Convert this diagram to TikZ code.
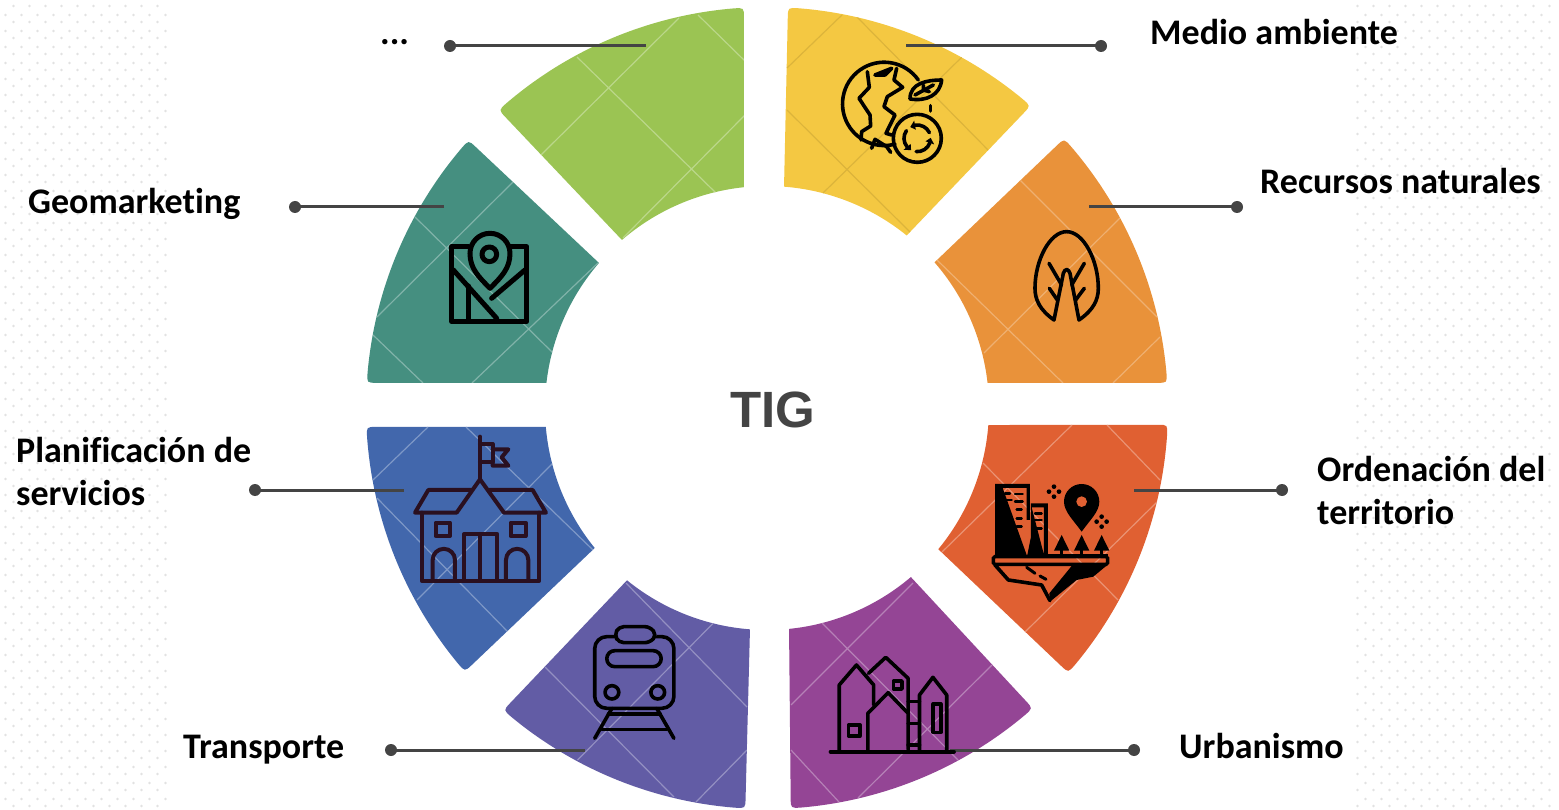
\documentclass[tikz,border=0pt]{standalone}
\usepackage{fontspec}
\setmainfont{Carlito}[Ligatures=NoCommon]
\newfontfamily\tigfont{Liberation Sans}
\usetikzlibrary{calc}
\definecolor{cyel}{HTML}{F4C842}
\definecolor{cora}{HTML}{E9923A}
\definecolor{cred}{HTML}{E06032}
\definecolor{cpur}{HTML}{944595}
\definecolor{cvio}{HTML}{625CA5}
\definecolor{cblu}{HTML}{4267AC}
\definecolor{ctea}{HTML}{458F80}
\definecolor{cgre}{HTML}{9BC453}
\definecolor{cink}{HTML}{2A1020}
\definecolor{cleader}{HTML}{444444}
\definecolor{cdot}{HTML}{E2E2E2}
\tikzset{
  lbl/.style={font=\fontsize{36}{43}\selectfont\bfseries,text=black,inner sep=0pt,anchor=base west,align=left},
  leader/.style={draw=cleader,line width=3pt},
  enddot/.style={circle,fill=cleader,inner sep=0pt,minimum size=12pt},
  ico/.style={draw=black,line width=3.6pt,line cap=round,line join=round},
  sch/.style={draw=cink,line width=4pt,line cap=round,line join=round},
  lat/.style={line width=1.2pt},
}
\newcommand\segpath[4]{({#1-1.5}:401) arc[start angle=#1-1.5,end angle=#2+1.5,radius=401]
     .. controls (#2:401) .. ($(#2:401)!10pt!(#3:222)$) -- (#3:222)
     arc[start angle=#3,end angle=#4,radius=222]
     -- ($(#1:401)!10pt!(#4:222)$) .. controls (#1:401) .. cycle}
% wedge: fill colour, lattice colour, outer start, outer end, inner near end, inner near start, lattice lines
\newcommand\segm[7]{%
  \begin{scope}[shift={(767,408)},y=1pt]
  \fill[#1] \segpath{#3}{#4}{#5}{#6};
  \clip \segpath{#3}{#4}{#5}{#6};
  \begin{scope}[y=-1pt,shift={(-767,-408)}]
    \draw[lat,#2] #7;
  \end{scope}
  \end{scope}}
\begin{document}
\begin{tikzpicture}[x=1pt,y=-1pt]
\useasboundingbox (0,0) rectangle (1559,810);
\fill[white] (0,0) rectangle (1559,810);
% dotted background
\foreach \j in {0,...,50}{
  \foreach \i in {0,...,9,84,85,...,96}{\fill[cdot] ({13.5+16*\i},{6+16*\j}) circle[radius=1.3];}
  \foreach \i in {0,...,10,85,86,...,96}{\fill[cdot] ({5.5+16*\i},{15+16*\j}) circle[radius=1.3];}
}
% wedges with their lattice lines
\segm{cyel}{cyel!90!black}{87}{48.9}{51}{85.6}{(842,15) -- (787,68) (857,17) -- (990,152) (962,57) -- (823,193) (787,110) -- (910,232)}
\segm{cora}{cora!72!white}{42.2}{3.6}{6.5}{41}{(1020,180) -- (1157,317) (1120,218) -- (984,353) (937,260) -- (1063,383) (1160,337) -- (1113,383)}
\segm{cred}{cred!68!white}{-2.4}{-41.3}{-39.5}{-4.4}{(1072,425) -- (942,552) (1107,425) -- (1160,480) (983,463) -- (1118,600) (1157,502) -- (1025,632)}
\segm{cpur}{cpur!68!white}{-48.5}{-86.6}{-84.3}{-49.6}{(913,583) -- (791,705) (822,623) -- (958,760) (992,665) -- (858,798) (791,750) -- (839,802)}
\segm{cvio}{cvio!68!white}{-93.1}{-131.1}{-129.1}{-94.4}{(626,583) -- (747,707) (713.5,623) -- (577.5,760) (545,667) -- (674,797) (747,750) -- (696,802)}
\segm{cblu}{cblu!68!white}{-138.9}{-177.3}{-175.1}{-140.9}{(428,427) -- (373,480) (466,427) -- (593,550) (377,498) -- (508,632) (553,463) -- (417,600)}
\segm{ctea}{ctea!68!white}{176.4}{138.1}{139.2}{173.5}{(513,182) -- (377,317) (415,217) -- (553,353) (598,263) -- (472,383) (373,335) -- (423,383)}
\segm{cgre}{cgre!68!white}{132}{93.3}{96}{130.8}{(679,18) -- (541,155) (577,57) -- (716,193) (698,15) -- (747,63) (747,113) -- (623,238)}
% centre label
\node[font=\tigfont\fontsize{51}{51}\selectfont\bfseries,text=cleader,inner sep=0pt,anchor=base] (tig) at (772.5,427) {TIG};
% labels
\node[lbl] (t1) at (1150,45) {Medio ambiente};
\node[lbl] (t2) at (1260,194) {Recursos naturales};
\node[lbl] (t3) at (1317,524) {Ordenación del\\territorio};
\node[lbl] (t4) at (1179,758) {Urbanismo};
\node[lbl] (t5) at (183,758) {Transporte};
\node[lbl] (t6) at (16,505) {Planificación de\\servicios};
\node[lbl] (t7) at (28,214) {Geomarketing};
\node[lbl] (t8) at (380,45) {...};
% connectors
\foreach \n/\ax/\ay/\bx in {a/906/46/1101,b/1089/207/1237,c/1134/490/1282,d/950/750/1134,e/585/750/391,f/404/490/255,g/444/207/295,h/646/46/450}{
  \coordinate (in\n) at (\ax,\ay);
  \node[enddot] (dot\n) at (\bx,\ay) {};
  \draw[leader] (in\n) -- (dot\n.center);
}
% yellow icon
\begin{scope}[shift={(780,0)},scale=0.3333]
  \draw[ico] (415,240) arc[start angle=-35,end angle=-285,radius=125];
  \draw[ico] (262,215) -- (268,262) -- (237,295) -- (270,345) -- (272,378) -- (245,395) -- (243,420);
  \draw[ico] (350,205) -- (342,240) -- (368,262) -- (322,290) -- (312,320) -- (345,345) -- (318,400) -- (335,405);
  \draw[ico] (285,225) -- (335,205) -- (315,225) -- cycle;
  \draw[ico] (275,445) -- (285,418) -- (320,440) -- (332,457);
  \draw[ico] (390,297) .. controls (390,250) and (440,240) .. (485,240) .. controls (480,285) and (440,305) .. cycle;
  \draw[ico] (405,285) -- (460,255);
  \draw[ico] (430,270) -- (430,255) (430,270) -- (448,275);
  \draw[ico] (452,317) -- (452,333);
  \draw[ico] (412,415) circle[radius=72];
  \foreach \a in {20,140,260}{
    \draw[ico] ($(412,415)+(\a:40)$) arc[start angle=\a,end angle=\a+75,radius=40];
    \fill[black] ($(412,415)+(\a:26)$) -- ($(412,415)+(\a:54)$) -- ($(412,415)+(\a-22:40)$) -- cycle;
  }
\end{scope}
% tree icon
\begin{scope}[shift={(930,130)},scale=0.3333]
  \draw[ico] (372,570) .. controls (330,540) and (315,510) .. (315,475)
     .. controls (315,390) and (360,305) .. (410,305)
     .. controls (460,305) and (505,390) .. (505,475)
     .. controls (505,510) and (490,540) .. (447,570)
     -- (420,430) .. controls (415,415) and (405,415) .. (400,430) -- cycle;
  \draw[ico] (357,400) -- (395,465) (463,400) -- (425,465) (358,475) -- (382,510) (463,475) -- (437,510);
\end{scope}
% city icon
\begin{scope}[shift={(930,420)},scale=0.3333]
  \fill[black] (195,192) -- (300,192) -- (300,300) -- (290,300) -- (290,204) -- (218,204) -- (290,405) -- (195,405) -- cycle;
  \fill[black] (303,250) -- (354,250) -- (354,405) -- (342,405) -- (342,262) -- (305,262) -- (342,405) -- (292,405) -- (303,350) -- cycle;
  \foreach \xa/\xb/\yy in {225/240/220,255/278/222,230/245/240,255/278/245,260/275/268,260/275/295,260/275/320,315/335/280,315/335/300,315/335/325}
    \draw[black,line width=2.4pt,line cap=round] (\xa,\yy) -- (\xb,\yy);
  \fill[black] (455,335) .. controls (430,300) and (402,275) .. (402,245)
    arc[start angle=180,end angle=360,radius=53]
    .. controls (508,275) and (480,300) .. cycle;
  \fill[cred] (455,245) circle[radius=16];
  \foreach \cx/\cy in {372/215,515/305}{
    \foreach \dx/\dy in {-15/0,15/0,0/-15,0/15}{\fill[black] ({\cx+\dx},{\cy+\dy}) circle[radius=7];}
  }
  \foreach \tx in {395,455,515}{
    \fill[black] (\tx,345) -- ({\tx+23},392) -- ({\tx-23},392) -- cycle;
    \fill[black] ({\tx-4},390) rectangle ({\tx+4},408);
  }
  \draw[black,line width=3.4pt,rounded corners=1.5pt] (190,410) rectangle (533,433);
  \fill[black] (345,403) rectangle (533,410);
  \draw[ico] (195,435) -- (235,480) -- (335,495) -- (360,542);
  \fill[black] (425,438) -- (358,520) -- (360,545) -- (440,480) -- (490,470) -- (532,435) -- cycle;
  \draw[black,line width=3pt,line cap=round] (290,442) -- (315,460) (330,468) -- (348,478);
\end{scope}
% houses icon
\begin{scope}[shift={(500,570)},xscale=0.3444,yscale=0.3333]
  \draw[ico] (985,545) -- (985,345) -- (1035,285) -- (1085,345) -- (1085,405);
  \draw[ico] (1012,465) rectangle (1045,498);
  \draw[ico] (1070,310) -- (1120,262) -- (1185,325) -- (1185,430);
  \draw[ico] (1143,333) rectangle (1167,357);
  \draw[ico] (1068,545) -- (1068,430) -- (1127,368) -- (1185,430) -- (1185,545);
  \draw[ico] (1218,545) -- (1218,375) -- (1257,322) -- (1297,375) -- (1297,545);
  \draw[ico] (1258,402) rectangle (1280,487);
  \draw[ico] (1185,395) -- (1218,395) (1185,460) -- (1218,460) (1185,525) -- (1218,525);
  \draw[ico,line width=4pt] (960,545) -- (1318,545);
\end{scope}
% train icon
\begin{scope}[shift={(500,570)},xscale=0.3444,yscale=0.3333]
  \draw[ico,rounded corners=12pt] (275,200) rectangle (505,415);
  \fill[cvio] (332,195) -- (345,172) -- (435,172) -- (455,195) -- (435,218) -- (345,218) -- cycle;
  \draw[ico,rounded corners=5pt] (332,195) -- (345,170) -- (435,170) -- (455,195) -- (435,218) -- (345,218) -- cycle;
  \draw[ico,rounded corners=8pt] (310,242) rectangle (468,290);
  \draw[ico] (325,367) circle[radius=20] (458,367) circle[radius=20];
  \draw[ico] (325,415) -- (275,505) (455,415) -- (505,505);
  \draw[ico] (315,432) -- (465,432) (295,478) -- (485,478);
\end{scope}
% school icon
\begin{scope}[shift={(360,420)},scale=0.3333]
  \draw[sch] (360,50) -- (360,175);
  \draw[sch] (360,72) -- (398,72) -- (398,125) -- (360,125);
  \draw[sch] (398,88) -- (445,88) -- (425,112) -- (445,137) -- (398,137) -- (398,125);
  \draw[sch] (360,178) -- (290,278) -- (165,278) -- (205,210) -- (335,210);
  \draw[sch] (360,178) -- (432,278) -- (558,278) -- (518,210) -- (388,210);
  \draw[sch] (185,278) -- (185,482) -- (538,482) -- (538,278);
  \draw[sch] (227,308) rectangle (270,348);
  \draw[sch] (452,308) rectangle (497,348);
  \draw[sch] (312,482) -- (312,342) -- (412,342) -- (412,482);
  \draw[sch] (360,342) -- (360,482);
  \draw[sch] (218,482) -- (218,420) arc[start angle=180,end angle=360,radius=33.5] -- (285,482);
  \draw[sch] (438,482) -- (438,420) arc[start angle=180,end angle=360,radius=33.5] -- (505,482);
\end{scope}
% map icon
\begin{scope}[shift={(360,130)},scale=0.3333]
  \draw[ico,line width=5pt] (325,350) -- (275,350) -- (275,575) -- (500,575) -- (500,350) -- (450,350);
  \draw[ico,line width=5pt] (390,475) .. controls (355,440) and (330,415) .. (330,370)
      arc[start angle=180,end angle=360,radius=60]
      .. controls (450,415) and (425,440) .. cycle;
  \draw[ico,line width=5pt] (388,373) circle[radius=22];
  \draw[ico,line width=5pt] (280,420) -- (410,565);
  \draw[ico,line width=5pt] (325,468) -- (325,570);
  \draw[ico,line width=5pt] (395,505) -- (495,420);
\end{scope}
\end{tikzpicture}
\end{document}
